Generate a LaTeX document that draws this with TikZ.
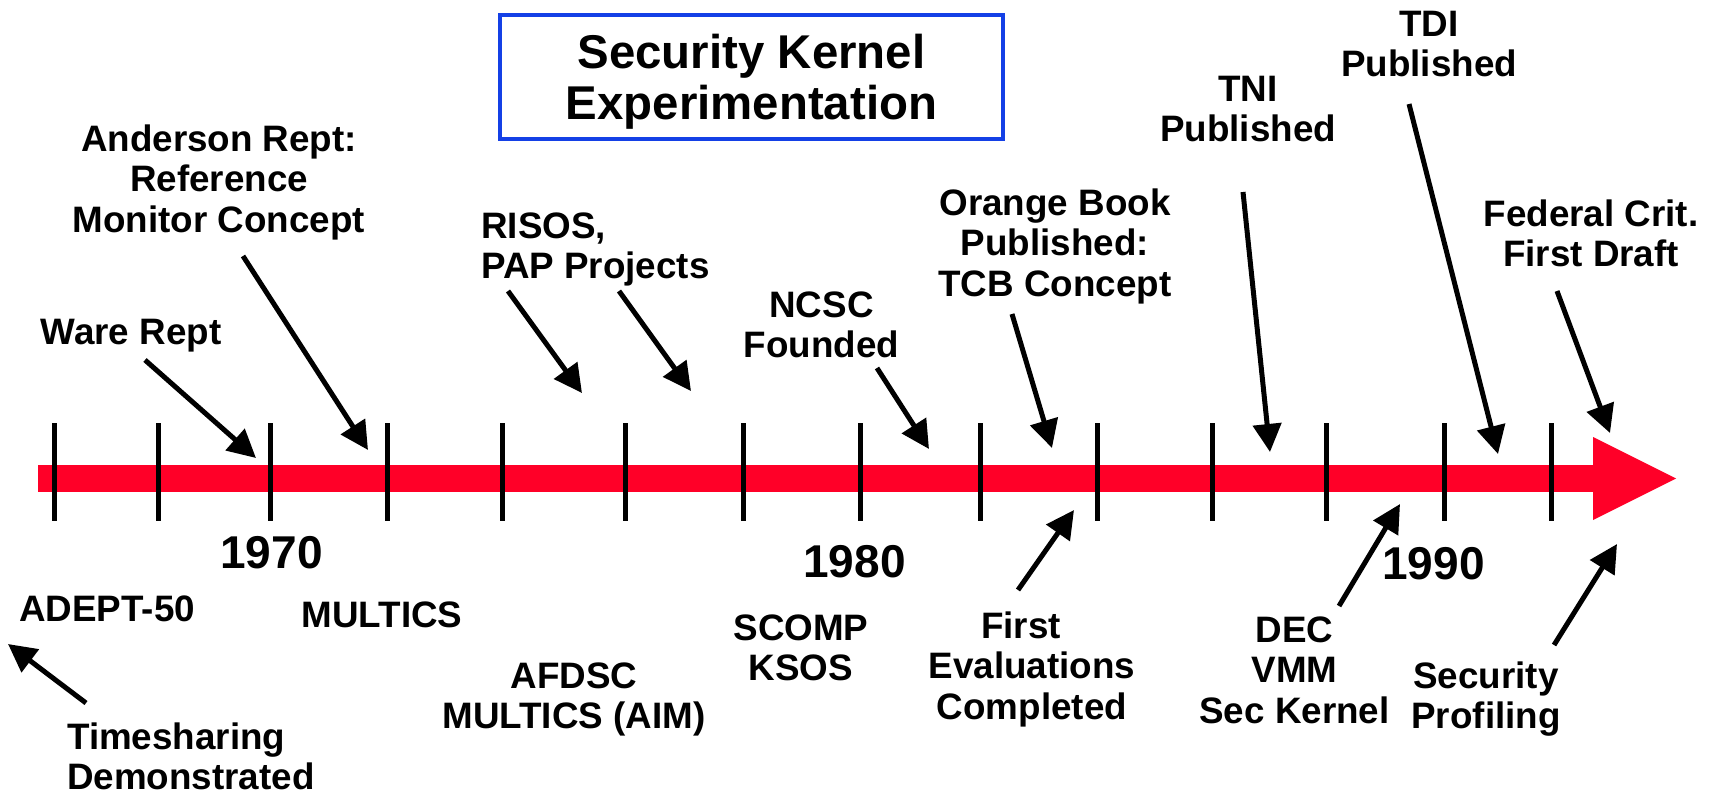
\documentclass[tikz,border=0pt]{standalone}
\usepackage{fontspec}
\setmainfont{Liberation Sans}
\usetikzlibrary{arrows.meta}
\definecolor{barred}{RGB}{255,0,40}
\definecolor{boxblue}{RGB}{20,64,230}
\newcommand\mlc[1]{\vtop{\halign{\hfil##\hfil\cr#1\crcr}}}
\newcommand\mll[1]{\vtop{\halign{##\hfil\cr#1\crcr}}}
\tikzset{
  lbl/.style={font=\fontsize{36.8}{40.5}\selectfont\bfseries, inner sep=0pt, anchor=base},
  yr/.style={font=\fontsize{46}{50}\selectfont\bfseries, inner sep=0pt, anchor=base},
  ttl/.style={font=\fontsize{47.4}{51}\selectfont\bfseries, inner sep=0pt, anchor=base},
  ptr/.style={line width=5pt, -{Triangle[length=28pt,width=28pt]}},
  tickmark/.style={line width=5pt},
}
\begin{document}
\begin{tikzpicture}[x=1pt,y=-1pt]
\useasboundingbox (0,0) rectangle (1713,796);
% timeline
\fill[barred] (38,465) rectangle (1594,492);
\fill[barred] (1593,437) -- (1676,478.5) -- (1593,520) -- cycle;
\foreach \t in {54,158,270,387,502,625,743,860,980,1097,1212,1326,1444,1551}
  \draw[tickmark] (\t,423) -- (\t,521);
% title
\node[draw=boxblue, line width=4pt, minimum width=503pt, minimum height=124pt, inner sep=0pt] (titlebox) at (751.5,77) {};
\node[ttl] (title) at (751.5,68) {\mlc{Security Kernel\cr Experimentation}};
% years
\node[yr] (y1970) at (271.5,568) {1970};
\node[yr] (y1980) at (854.5,577) {1980};
\node[yr] (y1990) at (1433.5,579) {1990};
% labels above
\node[lbl] (ware) at (131,344) {Ware Rept};
\node[lbl] (anderson) at (219,151) {\mlc{Anderson Rept:\cr Reference\cr Monitor Concept}};
\node[lbl, anchor=base west] (risos) at (481,238) {\mll{RISOS,\cr PAP Projects}};
\node[lbl] (ncsc) at (821.5,317) {\mlc{NCSC\cr Founded}};
\node[lbl] (orange) at (1055,215) {\mlc{Orange Book\cr Published:\cr TCB Concept}};
\node[lbl] (tni) at (1248,101) {\mlc{TNI\cr Published}};
\node[lbl] (tdi) at (1429,36) {\mlc{TDI\cr Published}};
\node[lbl] (federal) at (1591,226) {\mlc{Federal Crit.\cr First Draft}};
% labels below
\node[lbl] (adept) at (107,621) {ADEPT-50};
\node[lbl, anchor=base west] (timesharing) at (67,749) {\mll{Timesharing\cr Demonstrated}};
\node[lbl] (multics) at (382,627) {MULTICS};
\node[lbl] (afdsc) at (574,688) {\mlc{AFDSC\cr MULTICS (AIM)}};
\node[lbl] (scomp) at (801,640) {\mlc{SCOMP\cr KSOS}};
\node[lbl] (firsteval) at (1032,638) {\mlc{First\hspace{22pt}\cr Evaluations\cr Completed}};
\node[lbl] (dec) at (1294.5,642) {\mlc{DEC\cr VMM\cr Sec Kernel}};
\node[lbl] (secprof) at (1486,688) {\mlc{Security\cr Profiling}};
% arrow end points
\coordinate (wareS) at (145,360);   \coordinate (wareE) at (256,458);
\coordinate (andS) at (243,256);    \coordinate (andE) at (368,450);
\coordinate (ris1S) at (508,291);   \coordinate (ris1E) at (582,393);
\coordinate (ris2S) at (619,291);   \coordinate (ris2E) at (691,391);
\coordinate (ncscS) at (877,368);   \coordinate (ncscE) at (929,449);
\coordinate (orS) at (1012,314);    \coordinate (orE) at (1052,448);
\coordinate (feS) at (1018,590);    \coordinate (feE) at (1074,510);
\coordinate (tniS) at (1243,192);   \coordinate (tniE) at (1270,452);
\coordinate (decS) at (1339,606);   \coordinate (decE) at (1400,504);
\coordinate (tdiS) at (1409,104);   \coordinate (tdiE) at (1498,454);
\coordinate (fedS) at (1557,291);   \coordinate (fedE) at (1610,433);
\coordinate (spS) at (1554,645);    \coordinate (spE) at (1617,544);
\coordinate (adS) at (86,703);      \coordinate (adE) at (8,644);
\foreach \a in {ware,and,ris1,ris2,ncsc,or,fe,tni,dec,tdi,fed,sp,ad}
  \draw[ptr] (\a S) -- (\a E);
\end{tikzpicture}
\end{document}
